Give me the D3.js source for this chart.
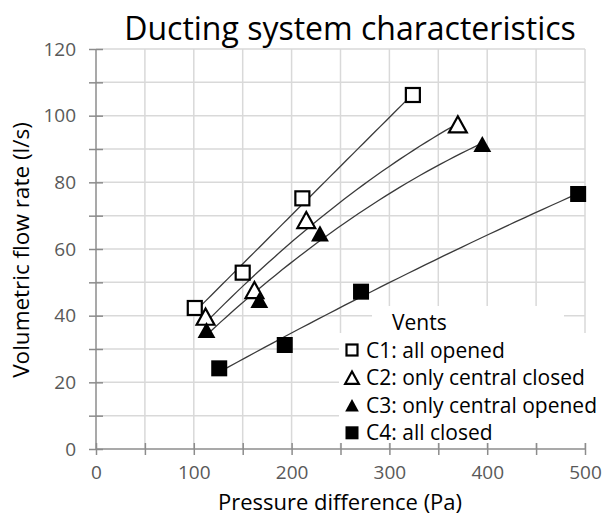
<html>
  <head>
    <style>
      body { margin: 0; background: #fff; }
      text { font-family: "Open Sans", sans-serif; }
      .grid line { stroke: #d9d9d9; stroke-width: 1.5px; }
      .axis path, .axis line { stroke: #8c8c8c; stroke-width: 1.5px; }
      .axis text { fill: #595959; font-size: 19px; font-family: "Open Sans", sans-serif; }
    </style>
  </head>
  <body>
    <script src="https://d3js.org/d3.v7.min.js"></script>
    <script>
      var width = 606, height = 515;

      // measured points, pressure difference (Pa) vs flow rate (l/s)
      var seriesNames = ["C1: all opened", "C2: only central closed", "C3: only central opened", "C4: all closed"];
      var pressureC1 = [101, 150, 211, 324];
      var flowC1 = [42.3, 52.9, 75.2, 106.2];
      var pressureC2 = [112, 162, 215, 370];
      var flowC2 = [39.7, 47.7, 68.7, 97.4];
      var pressureC3 = [113, 167, 229, 395];
      var flowC3 = [35.7, 44.7, 64.7, 91.5];
      var pressureC4 = [126, 193, 271, 493];
      var flowC4 = [24.2, 31.2, 47.2, 76.5];
      var xTicks = [0, 50, 100, 150, 200, 250, 300, 350, 400, 450, 500];
      var yTicks = [0, 10, 20, 30, 40, 50, 60, 70, 80, 90, 100, 110, 120];

      var series = [
        { name: seriesNames[0], x: pressureC1, y: flowC1, shape: "square", filled: false },
        { name: seriesNames[1], x: pressureC2, y: flowC2, shape: "triangle", filled: false },
        { name: seriesNames[2], x: pressureC3, y: flowC3, shape: "triangle", filled: true },
        { name: seriesNames[3], x: pressureC4, y: flowC4, shape: "square", filled: true }
      ];

      var x = d3.scaleLinear().domain([0, 500]).range([96, 585]);
      var y = d3.scaleLinear().domain([0, 120]).range([449, 49]);

      var svg = d3.select("body").append("svg")
          .attr("width", width)
          .attr("height", height);

      // gridlines
      var grid = svg.append("g").attr("class", "grid");
      grid.selectAll(".gx").data(xTicks.slice(1)).enter().append("line")
          .attr("x1", function(d){ return x(d); }).attr("x2", function(d){ return x(d); })
          .attr("y1", y(0)).attr("y2", y(120));
      grid.selectAll(".gy").data(yTicks.slice(1)).enter().append("line")
          .attr("x1", x(0)).attr("x2", x(500))
          .attr("y1", function(d){ return y(d); }).attr("y2", function(d){ return y(d); });

      // axes
      var xAxis = svg.append("g").attr("class", "axis")
          .attr("transform", "translate(0," + y(0) + ")")
          .call(d3.axisBottom(x).tickValues(xTicks).tickSizeOuter(0).tickSizeInner(6).tickPadding(11)
            .tickFormat(function(d){ return d % 100 === 0 ? d : ""; }));
      xAxis.selectAll(".tick line").attr("y1", -6);

      var yAxis = svg.append("g").attr("class", "axis")
          .attr("transform", "translate(" + x(0) + ",0)")
          .call(d3.axisLeft(y).tickValues(yTicks).tickSizeOuter(0).tickSizeInner(7).tickPadding(13)
            .tickFormat(function(d){ return d % 20 === 0 ? d : ""; }));
      yAxis.selectAll(".tick line").attr("x1", 7);
      svg.selectAll(".axis .domain").remove();
      svg.append("line").attr("stroke", "#8c8c8c").attr("stroke-width", 1.5)
          .attr("x1", x(0)).attr("x2", x(0)).attr("y1", y(0)).attr("y2", y(120));
      svg.append("line").attr("stroke", "#8c8c8c").attr("stroke-width", 1.5)
          .attr("x1", x(0)).attr("x2", x(500)).attr("y1", y(0)).attr("y2", y(0));

      // second-order polynomial trend lines (least squares)
      function quadFit(xs, ys) {
        var n = xs.length, m = d3.mean(xs);
        var s2 = 0, s3 = 0, s4 = 0, sy = 0, suy = 0, su2y = 0;
        xs.forEach(function(v, i){
          var u = v - m;
          s2 += u * u; s3 += u * u * u; s4 += u * u * u * u;
          sy += ys[i]; suy += u * ys[i]; su2y += u * u * ys[i];
        });
        // solve [n 0 s2; 0 s2 s3; s2 s3 s4] [a b c] = [sy suy su2y]
        var A = [[n, 0, s2, sy], [0, s2, s3, suy], [s2, s3, s4, su2y]];
        for (var k = 0; k < 3; k++) {
          for (var r = k + 1; r < 3; r++) {
            var f = A[r][k] / A[k][k];
            for (var c = k; c < 4; c++) A[r][c] -= f * A[k][c];
          }
        }
        var cc = A[2][3] / A[2][2];
        var bb = (A[1][3] - A[1][2] * cc) / A[1][1];
        var aa = (A[0][3] - A[0][1] * bb - A[0][2] * cc) / A[0][0];
        return function(v){ var u = v - m; return aa + bb * u + cc * u * u; };
      }

      var line = d3.line()
          .x(function(d){ return x(d[0]); })
          .y(function(d){ return y(d[1]); });

      series.forEach(function(s){
        var f = quadFit(s.x, s.y);
        var x0 = d3.min(s.x), x1 = d3.max(s.x);
        var pts = d3.range(0, 41).map(function(i){ var v = x0 + (x1 - x0) * i / 40; return [v, f(v)]; });
        svg.append("path")
            .attr("d", line(pts))
            .attr("fill", "none")
            .attr("stroke", "#3a3a3a")
            .attr("stroke-width", 1.3);
      });

      function drawMarker(g, shape, filled, cx, cy, size) {
        if (shape === "square") {
          var s = filled ? size : size - 2;
          g.append("rect")
              .attr("x", cx - s / 2).attr("y", cy - s / 2)
              .attr("width", s).attr("height", s)
              .attr("fill", filled ? "#000" : "#fff")
              .attr("stroke", "#000")
              .attr("stroke-width", filled ? 0 : 2.2);
        } else {
          var h = size * 0.95, w = size * 1.05;
          g.append("path")
              .attr("d", "M" + cx + "," + (cy - h / 2) + "L" + (cx + w / 2) + "," + (cy + h / 2) + "L" + (cx - w / 2) + "," + (cy + h / 2) + "Z")
              .attr("fill", filled ? "#000" : "#fff")
              .attr("stroke", "#000")
              .attr("stroke-width", filled ? 0 : 2.2)
              .attr("stroke-linejoin", "miter");
        }
      }

      var marks = svg.append("g");
      series.forEach(function(s){
        s.x.forEach(function(v, i){
          drawMarker(marks, s.shape, s.filled, x(v), y(s.y[i]), s.shape === "triangle" ? 17 : 16);
        });
      });

      // legend
      svg.append("rect").attr("x", 372).attr("y", 306).attr("width", 192).attr("height", 28).attr("fill", "#fff");
      svg.append("rect").attr("x", 339).attr("y", 333).attr("width", 267).attr("height", 110).attr("fill", "#fff");
      svg.append("text").attr("x", 392).attr("y", 330)
          .attr("font-size", 21).attr("fill", "#000").text("Vents");
      var legend = svg.append("g");
      series.forEach(function(s, i){
        var cy = 350 + i * 27.6;
        drawMarker(legend, s.shape, s.filled, 352, cy, 13);
        legend.append("text").attr("x", 366).attr("y", cy + 7.5)
            .attr("font-size", 21).attr("fill", "#000").text(s.name);
      });

      // titles
      svg.append("text").attr("x", 350).attr("y", 40)
          .attr("text-anchor", "middle").attr("font-size", 32).attr("fill", "#000")
          .text("Ducting system characteristics");
      svg.append("text").attr("x", 340).attr("y", 510)
          .attr("text-anchor", "middle").attr("font-size", 22).attr("fill", "#000")
          .text("Pressure difference (Pa)");
      svg.append("text")
          .attr("transform", "translate(29,250) rotate(-90)")
          .attr("text-anchor", "middle").attr("font-size", 22.5).attr("fill", "#000")
          .text("Volumetric flow rate (l/s)");
    </script>
  </body>
</html>
